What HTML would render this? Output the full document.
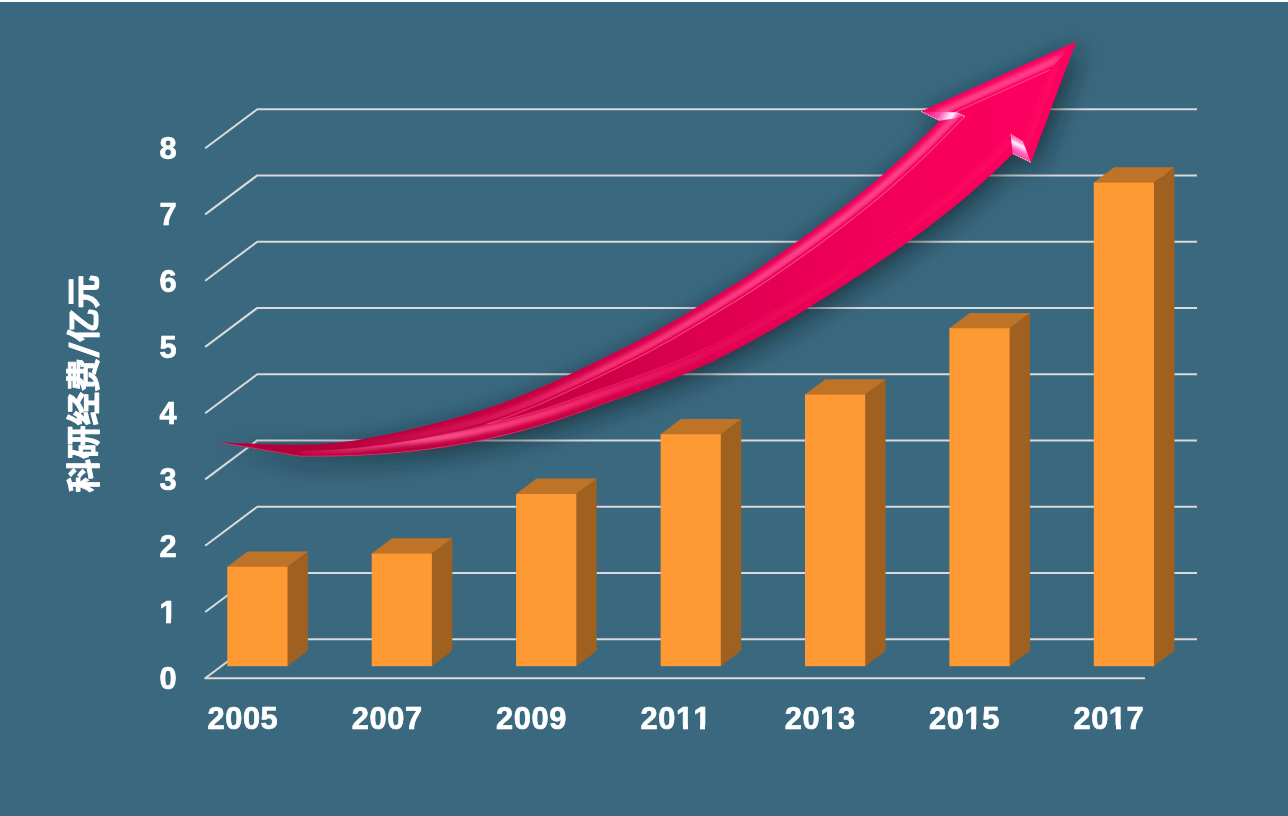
<!DOCTYPE html>
<html lang="zh-CN">
<head>
<meta charset="utf-8">
<title>科研经费</title>
<style>
html,body{margin:0;padding:0;background:#3a697f;}
body{width:1288px;height:816px;overflow:hidden;font-family:"Liberation Sans","Noto Sans CJK SC",sans-serif;}
svg{display:block;}
</style>
</head>
<body>
<svg width="1288" height="816" viewBox="0 0 1288 816">
<defs>
<linearGradient id="gF" gradientUnits="userSpaceOnUse" x1="217" y1="0" x2="1076" y2="0">
<stop offset="0" stop-color="#ae0037"/><stop offset="0.132" stop-color="#b6003b"/><stop offset="0.388" stop-color="#c80044"/><stop offset="0.574" stop-color="#de004f"/><stop offset="0.749" stop-color="#ef0058"/><stop offset="0.912" stop-color="#fb005e"/><stop offset="1" stop-color="#fe0060"/>
</linearGradient>
<linearGradient id="gB" gradientUnits="userSpaceOnUse" x1="217" y1="0" x2="1076" y2="0">
<stop offset="0" stop-color="#ae0037"/><stop offset="0.132" stop-color="#b6003b"/><stop offset="0.388" stop-color="#cb054a"/><stop offset="0.574" stop-color="#e60855"/><stop offset="0.749" stop-color="#f40a5e"/><stop offset="0.912" stop-color="#fd0663"/><stop offset="1" stop-color="#ff0664"/>
</linearGradient>
<linearGradient id="gRim" gradientUnits="userSpaceOnUse" x1="217" y1="0" x2="1076" y2="0">
<stop offset="0" stop-color="#ff6a9c" stop-opacity="0.55"/><stop offset="0.353" stop-color="#ff6a9c" stop-opacity="0.5"/><stop offset="0.539" stop-color="#ff6a9c" stop-opacity="0"/>
</linearGradient>
<linearGradient id="gHU" gradientUnits="userSpaceOnUse" x1="217" y1="0" x2="1076" y2="0">
<stop offset="0.132" stop-color="#e0205f" stop-opacity="0"/><stop offset="0.236" stop-color="#e8246a" stop-opacity="0.4"/><stop offset="0.329" stop-color="#f02a6c" stop-opacity="0.6"/><stop offset="0.446" stop-color="#ff3a7c" stop-opacity="0.9"/><stop offset="0.679" stop-color="#ff4a90" stop-opacity="1"/><stop offset="1" stop-color="#ff4a90" stop-opacity="1"/>
</linearGradient>
<linearGradient id="gHL" gradientUnits="userSpaceOnUse" x1="217" y1="0" x2="1076" y2="0">
<stop offset="0.097" stop-color="#e83070" stop-opacity="0.3"/><stop offset="0.166" stop-color="#f04080" stop-opacity="0.8"/><stop offset="0.248" stop-color="#ff5a98" stop-opacity="1"/><stop offset="0.388" stop-color="#ff3a7a" stop-opacity="0.95"/><stop offset="0.562" stop-color="#f82070" stop-opacity="0.4"/><stop offset="0.749" stop-color="#ff1a6c" stop-opacity="0.2"/><stop offset="1" stop-color="#ff1a6e" stop-opacity="0.3"/>
</linearGradient>
<linearGradient id="gLU" gradientUnits="userSpaceOnUse" x1="217" y1="0" x2="1076" y2="0">
<stop offset="0.322" stop-color="#f03a74" stop-opacity="0.8"/><stop offset="0.574" stop-color="#ff4a8a" stop-opacity="0.85"/><stop offset="1" stop-color="#ff4a8e" stop-opacity="0.85"/>
</linearGradient>
<linearGradient id="gLL" gradientUnits="userSpaceOnUse" x1="217" y1="0" x2="1076" y2="0">
<stop offset="0.322" stop-color="#f0407a" stop-opacity="0.8"/><stop offset="0.574" stop-color="#f8307a" stop-opacity="0.4"/><stop offset="0.679" stop-color="#ff2a7a" stop-opacity="0.2"/><stop offset="1" stop-color="#ff2a7a" stop-opacity="0.2"/>
</linearGradient>
<linearGradient id="gG1" gradientUnits="userSpaceOnUse" x1="930" y1="108" x2="958" y2="124">
<stop offset="0" stop-color="#ff1a74"/><stop offset="0.35" stop-color="#ff50b0"/><stop offset="0.6" stop-color="#ffc8f4"/><stop offset="0.72" stop-color="#fff0fc"/><stop offset="0.86" stop-color="#ff60b8"/><stop offset="1" stop-color="#ff1a74"/>
</linearGradient>
<linearGradient id="gG2" gradientUnits="userSpaceOnUse" x1="1026" y1="137" x2="1015" y2="159">
<stop offset="0" stop-color="#ff2a84"/><stop offset="0.22" stop-color="#ff60bc"/><stop offset="0.42" stop-color="#fff0fc"/><stop offset="0.62" stop-color="#ff70c8"/><stop offset="1" stop-color="#ff1a78"/>
</linearGradient>
<filter id="sh" x="-10%" y="-20%" width="120%" height="140%"><feGaussianBlur stdDeviation="13"/></filter>
<filter id="b2" x="-5%" y="-5%" width="110%" height="110%"><feGaussianBlur stdDeviation="1.9"/></filter>
<clipPath id="cA"><path d="M216.8 442.3L224.9 442.6 233.0 442.9 241.2 443.2 249.3 443.6 257.4 443.9 265.5 444.2 273.6 444.5 281.8 444.6 289.9 444.7 298.0 444.7 306.1 444.6 314.3 444.4 322.4 443.9 330.5 443.3 338.6 442.5 346.7 441.5 354.9 440.4 363.0 439.1 371.1 437.6 379.2 436.1 387.3 434.4 395.5 432.7 403.6 430.9 411.7 429.0 419.8 427.1 428.0 425.2 436.1 423.1 444.2 421.0 452.3 418.8 460.4 416.5 468.6 414.1 476.7 411.6 484.8 409.0 492.9 406.3 501.0 403.4 509.2 400.4 517.3 397.3 525.4 394.0 533.5 390.6 541.7 387.1 549.8 383.4 557.9 379.7 566.0 376.0 574.1 372.2 582.3 368.3 590.4 364.5 598.5 360.6 606.6 356.6 614.7 352.6 622.9 348.5 631.0 344.4 639.1 340.1 647.2 335.8 655.4 331.3 663.5 326.8 671.6 322.2 679.7 317.4 687.8 312.7 696.0 307.8 704.1 303.0 712.2 298.1 720.3 293.1 728.4 288.1 736.6 283.0 744.7 277.8 752.8 272.4 760.9 266.9 769.1 261.3 777.2 255.7 785.3 250.0 793.4 244.3 801.5 238.4 809.7 232.6 817.8 226.6 825.9 220.5 834.0 214.4 842.1 208.1 850.3 201.7 858.4 195.1 866.5 188.5 874.6 181.7 882.8 174.7 890.9 167.6 899.0 160.2 907.1 152.7 915.2 145.0 923.4 137.1 931.5 129.0 939.6 120.7 921.0 111.4 1076.3 41.4 1030.9 162.4 1012.8 153.7 1004.8 161.6 996.8 169.3 988.8 176.7 980.8 184.0 972.8 191.0 964.8 197.9 956.7 204.6 948.7 211.1 940.7 217.4 932.7 223.6 924.7 229.7 916.7 235.6 908.7 241.4 900.7 247.1 892.7 252.7 884.7 258.2 876.7 263.7 868.7 269.0 860.7 274.4 852.6 279.6 844.6 284.9 836.6 290.1 828.6 295.2 820.6 300.3 812.6 305.3 804.6 310.3 796.6 315.2 788.6 320.0 780.6 324.8 772.6 329.5 764.6 334.1 756.5 338.6 748.5 343.0 740.5 347.3 732.5 351.5 724.5 355.5 716.5 359.5 708.5 363.4 700.5 367.1 692.5 370.7 684.5 374.1 676.5 377.5 668.5 380.6 660.5 383.7 652.4 386.7 644.4 389.7 636.4 392.5 628.4 395.4 620.4 398.2 612.4 401.0 604.4 403.8 596.4 406.7 588.4 409.6 580.4 412.5 572.4 415.3 564.4 418.1 556.4 420.7 548.3 423.3 540.3 425.7 532.3 428.1 524.3 430.3 516.3 432.5 508.3 434.5 500.3 436.4 492.3 438.3 484.3 440.0 476.3 441.6 468.3 443.2 460.3 444.6 452.2 446.0 444.2 447.2 436.2 448.4 428.2 449.5 420.2 450.5 412.2 451.4 404.2 452.2 396.2 453.0 388.2 453.7 380.2 454.3 372.2 454.8 364.2 455.3 356.2 455.7 348.1 456.0 340.1 456.3 332.1 456.4 324.1 456.6 316.1 456.6 308.1 456.6 300.1 456.6Z"/></clipPath>
<clipPath id="cL"><path d="M216.8 442.3L262.0 448.2 300.1 450.7 310.9 450.6 321.8 450.3 332.6 449.8 343.4 449.1 354.2 448.1 365.1 447.0 375.9 445.6 386.7 444.2 397.6 442.5 408.4 440.8 419.2 438.9 430.0 436.9 440.9 434.8 451.7 432.5 462.5 430.1 473.4 427.4 484.2 424.6 495.0 421.6 505.8 418.4 516.7 415.0 527.5 411.3 538.3 407.4 549.2 403.4 560.0 399.1 570.8 394.8 581.6 390.3 592.5 385.8 603.3 381.2 614.1 376.6 625.0 372.0 635.8 367.3 646.6 362.5 657.5 357.5 668.3 352.4 679.1 347.1 689.9 341.6 700.8 336.0 711.6 330.2 722.4 324.2 733.3 318.1 744.1 311.8 754.9 305.2 765.7 298.5 776.6 291.6 787.4 284.6 798.2 277.5 809.1 270.3 819.9 262.9 830.7 255.4 841.5 247.7 852.4 239.9 863.2 231.9 874.0 223.8 884.9 215.5 895.7 206.9 906.5 198.1 917.3 189.1 928.2 179.7 939.0 170.0 985.0 138.0 1049.5 70.0 1076.3 41.4 1100.0 41.0 1100.0 500.0 200.0 500.0Z"/></clipPath>
<clipPath id="cU"><path d="M0 0H1288V816H0Z M216.8 442.3L262.0 448.2 300.1 450.7 310.9 450.6 321.8 450.3 332.6 449.8 343.4 449.1 354.2 448.1 365.1 447.0 375.9 445.6 386.7 444.2 397.6 442.5 408.4 440.8 419.2 438.9 430.0 436.9 440.9 434.8 451.7 432.5 462.5 430.1 473.4 427.4 484.2 424.6 495.0 421.6 505.8 418.4 516.7 415.0 527.5 411.3 538.3 407.4 549.2 403.4 560.0 399.1 570.8 394.8 581.6 390.3 592.5 385.8 603.3 381.2 614.1 376.6 625.0 372.0 635.8 367.3 646.6 362.5 657.5 357.5 668.3 352.4 679.1 347.1 689.9 341.6 700.8 336.0 711.6 330.2 722.4 324.2 733.3 318.1 744.1 311.8 754.9 305.2 765.7 298.5 776.6 291.6 787.4 284.6 798.2 277.5 809.1 270.3 819.9 262.9 830.7 255.4 841.5 247.7 852.4 239.9 863.2 231.9 874.0 223.8 884.9 215.5 895.7 206.9 906.5 198.1 917.3 189.1 928.2 179.7 939.0 170.0 985.0 138.0 1049.5 70.0 1076.3 41.4 1100.0 41.0 1100.0 500.0 200.0 500.0Z" clip-rule="evenodd"/></clipPath>
<clipPath id="cB"><path d="M0 0H880V816H0Z"/></clipPath>
<clipPath id="cHU"><path d="M880 0H1100V41H1076.3L1049.5 70L985 138L939 170L880 210Z"/></clipPath>
<clipPath id="cHL"><path d="M880 500H1100V41H1076.3L1049.5 70L985 138L939 170L880 210Z"/></clipPath>
</defs>
<rect width="1288" height="816" fill="#3a697f"/>
<rect width="1288" height="2" fill="#ffffff"/>
<g fill="none" stroke="#d9d9d9" stroke-width="2.05" stroke-linejoin="round" stroke-linecap="butt">
<path d="M205.2 148.2 L257.3 109.2 H1197.0"/>
<path d="M205.2 214.4 L257.3 175.4 H1197.0"/>
<path d="M205.2 280.7 L257.3 241.7 H1197.0"/>
<path d="M205.2 346.9 L257.3 307.9 H1197.0"/>
<path d="M205.2 413.2 L257.3 374.2 H1197.0"/>
<path d="M205.2 479.4 L257.3 440.4 H1197.0"/>
<path d="M205.2 545.7 L257.3 506.7 H1197.0"/>
<path d="M205.2 612.0 L257.3 573.0 H1197.0"/>
<path d="M1145.0 678.2 H205.2 L257.3 639.2 H1197.0"/>
</g>
<g>
<path d="M285.5 568.8 L287.5 566.8 l20.4 -15.4 V650.8 l-20.4 15.4 h-2 Z" fill="#9f6020"/>
<path d="M227.3 566.8 l20.4 -15.4 h60.2 l-20.4 15.4 v2 h-60.2 Z" fill="#bf7326"/>
<rect x="227.3" y="566.8" width="60.2" height="99.4" fill="#ff9933"/>
<path d="M429.9 555.6 L431.9 553.6 l20.4 -15.4 V650.8 l-20.4 15.4 h-2 Z" fill="#9f6020"/>
<path d="M371.7 553.6 l20.4 -15.4 h60.2 l-20.4 15.4 v2 h-60.2 Z" fill="#bf7326"/>
<rect x="371.7" y="553.6" width="60.2" height="112.6" fill="#ff9933"/>
<path d="M574.3 496.0 L576.3 494.0 l20.4 -15.4 V650.8 l-20.4 15.4 h-2 Z" fill="#9f6020"/>
<path d="M516.1 494.0 l20.4 -15.4 h60.2 l-20.4 15.4 v2 h-60.2 Z" fill="#bf7326"/>
<rect x="516.1" y="494.0" width="60.2" height="172.2" fill="#ff9933"/>
<path d="M718.8 436.3 L720.8 434.3 l20.4 -15.4 V650.8 l-20.4 15.4 h-2 Z" fill="#9f6020"/>
<path d="M660.6 434.3 l20.4 -15.4 h60.2 l-20.4 15.4 v2 h-60.2 Z" fill="#bf7326"/>
<rect x="660.6" y="434.3" width="60.2" height="231.9" fill="#ff9933"/>
<path d="M863.2 396.6 L865.2 394.6 l20.4 -15.4 V650.8 l-20.4 15.4 h-2 Z" fill="#9f6020"/>
<path d="M805.0 394.6 l20.4 -15.4 h60.2 l-20.4 15.4 v2 h-60.2 Z" fill="#bf7326"/>
<rect x="805.0" y="394.6" width="60.2" height="271.6" fill="#ff9933"/>
<path d="M1007.6 330.3 L1009.6 328.3 l20.4 -15.4 V650.8 l-20.4 15.4 h-2 Z" fill="#9f6020"/>
<path d="M949.4 328.3 l20.4 -15.4 h60.2 l-20.4 15.4 v2 h-60.2 Z" fill="#bf7326"/>
<rect x="949.4" y="328.3" width="60.2" height="337.9" fill="#ff9933"/>
<path d="M1152.0 184.6 L1154.0 182.6 l20.4 -15.4 V650.8 l-20.4 15.4 h-2 Z" fill="#9f6020"/>
<path d="M1093.8 182.6 l20.4 -15.4 h60.2 l-20.4 15.4 v2 h-60.2 Z" fill="#bf7326"/>
<rect x="1093.8" y="182.6" width="60.2" height="483.6" fill="#ff9933"/>
</g>
<g>
<path d="M216.8 442.3L224.9 442.6 233.0 442.9 241.2 443.2 249.3 443.6 257.4 443.9 265.5 444.2 273.6 444.5 281.8 444.6 289.9 444.7 298.0 444.7 306.1 444.6 314.3 444.4 322.4 443.9 330.5 443.3 338.6 442.5 346.7 441.5 354.9 440.4 363.0 439.1 371.1 437.6 379.2 436.1 387.3 434.4 395.5 432.7 403.6 430.9 411.7 429.0 419.8 427.1 428.0 425.2 436.1 423.1 444.2 421.0 452.3 418.8 460.4 416.5 468.6 414.1 476.7 411.6 484.8 409.0 492.9 406.3 501.0 403.4 509.2 400.4 517.3 397.3 525.4 394.0 533.5 390.6 541.7 387.1 549.8 383.4 557.9 379.7 566.0 376.0 574.1 372.2 582.3 368.3 590.4 364.5 598.5 360.6 606.6 356.6 614.7 352.6 622.9 348.5 631.0 344.4 639.1 340.1 647.2 335.8 655.4 331.3 663.5 326.8 671.6 322.2 679.7 317.4 687.8 312.7 696.0 307.8 704.1 303.0 712.2 298.1 720.3 293.1 728.4 288.1 736.6 283.0 744.7 277.8 752.8 272.4 760.9 266.9 769.1 261.3 777.2 255.7 785.3 250.0 793.4 244.3 801.5 238.4 809.7 232.6 817.8 226.6 825.9 220.5 834.0 214.4 842.1 208.1 850.3 201.7 858.4 195.1 866.5 188.5 874.6 181.7 882.8 174.7 890.9 167.6 899.0 160.2 907.1 152.7 915.2 145.0 923.4 137.1 931.5 129.0 939.6 120.7 921.0 111.4 1076.3 41.4 1030.9 162.4 1012.8 153.7 1004.8 161.6 996.8 169.3 988.8 176.7 980.8 184.0 972.8 191.0 964.8 197.9 956.7 204.6 948.7 211.1 940.7 217.4 932.7 223.6 924.7 229.7 916.7 235.6 908.7 241.4 900.7 247.1 892.7 252.7 884.7 258.2 876.7 263.7 868.7 269.0 860.7 274.4 852.6 279.6 844.6 284.9 836.6 290.1 828.6 295.2 820.6 300.3 812.6 305.3 804.6 310.3 796.6 315.2 788.6 320.0 780.6 324.8 772.6 329.5 764.6 334.1 756.5 338.6 748.5 343.0 740.5 347.3 732.5 351.5 724.5 355.5 716.5 359.5 708.5 363.4 700.5 367.1 692.5 370.7 684.5 374.1 676.5 377.5 668.5 380.6 660.5 383.7 652.4 386.7 644.4 389.7 636.4 392.5 628.4 395.4 620.4 398.2 612.4 401.0 604.4 403.8 596.4 406.7 588.4 409.6 580.4 412.5 572.4 415.3 564.4 418.1 556.4 420.7 548.3 423.3 540.3 425.7 532.3 428.1 524.3 430.3 516.3 432.5 508.3 434.5 500.3 436.4 492.3 438.3 484.3 440.0 476.3 441.6 468.3 443.2 460.3 444.6 452.2 446.0 444.2 447.2 436.2 448.4 428.2 449.5 420.2 450.5 412.2 451.4 404.2 452.2 396.2 453.0 388.2 453.7 380.2 454.3 372.2 454.8 364.2 455.3 356.2 455.7 348.1 456.0 340.1 456.3 332.1 456.4 324.1 456.6 316.1 456.6 308.1 456.6 300.1 456.6Z" fill="#08161f" opacity="0.62" filter="url(#sh)" transform="translate(5,6)"/>
<path d="M216.8 442.3L224.9 442.6 233.0 442.9 241.2 443.2 249.3 443.6 257.4 443.9 265.5 444.2 273.6 444.5 281.8 444.6 289.9 444.7 298.0 444.7 306.1 444.6 314.3 444.4 322.4 443.9 330.5 443.3 338.6 442.5 346.7 441.5 354.9 440.4 363.0 439.1 371.1 437.6 379.2 436.1 387.3 434.4 395.5 432.7 403.6 430.9 411.7 429.0 419.8 427.1 428.0 425.2 436.1 423.1 444.2 421.0 452.3 418.8 460.4 416.5 468.6 414.1 476.7 411.6 484.8 409.0 492.9 406.3 501.0 403.4 509.2 400.4 517.3 397.3 525.4 394.0 533.5 390.6 541.7 387.1 549.8 383.4 557.9 379.7 566.0 376.0 574.1 372.2 582.3 368.3 590.4 364.5 598.5 360.6 606.6 356.6 614.7 352.6 622.9 348.5 631.0 344.4 639.1 340.1 647.2 335.8 655.4 331.3 663.5 326.8 671.6 322.2 679.7 317.4 687.8 312.7 696.0 307.8 704.1 303.0 712.2 298.1 720.3 293.1 728.4 288.1 736.6 283.0 744.7 277.8 752.8 272.4 760.9 266.9 769.1 261.3 777.2 255.7 785.3 250.0 793.4 244.3 801.5 238.4 809.7 232.6 817.8 226.6 825.9 220.5 834.0 214.4 842.1 208.1 850.3 201.7 858.4 195.1 866.5 188.5 874.6 181.7 882.8 174.7 890.9 167.6 899.0 160.2 907.1 152.7 915.2 145.0 923.4 137.1 931.5 129.0 939.6 120.7 921.0 111.4 1076.3 41.4 1030.9 162.4 1012.8 153.7 1004.8 161.6 996.8 169.3 988.8 176.7 980.8 184.0 972.8 191.0 964.8 197.9 956.7 204.6 948.7 211.1 940.7 217.4 932.7 223.6 924.7 229.7 916.7 235.6 908.7 241.4 900.7 247.1 892.7 252.7 884.7 258.2 876.7 263.7 868.7 269.0 860.7 274.4 852.6 279.6 844.6 284.9 836.6 290.1 828.6 295.2 820.6 300.3 812.6 305.3 804.6 310.3 796.6 315.2 788.6 320.0 780.6 324.8 772.6 329.5 764.6 334.1 756.5 338.6 748.5 343.0 740.5 347.3 732.5 351.5 724.5 355.5 716.5 359.5 708.5 363.4 700.5 367.1 692.5 370.7 684.5 374.1 676.5 377.5 668.5 380.6 660.5 383.7 652.4 386.7 644.4 389.7 636.4 392.5 628.4 395.4 620.4 398.2 612.4 401.0 604.4 403.8 596.4 406.7 588.4 409.6 580.4 412.5 572.4 415.3 564.4 418.1 556.4 420.7 548.3 423.3 540.3 425.7 532.3 428.1 524.3 430.3 516.3 432.5 508.3 434.5 500.3 436.4 492.3 438.3 484.3 440.0 476.3 441.6 468.3 443.2 460.3 444.6 452.2 446.0 444.2 447.2 436.2 448.4 428.2 449.5 420.2 450.5 412.2 451.4 404.2 452.2 396.2 453.0 388.2 453.7 380.2 454.3 372.2 454.8 364.2 455.3 356.2 455.7 348.1 456.0 340.1 456.3 332.1 456.4 324.1 456.6 316.1 456.6 308.1 456.6 300.1 456.6Z" fill="url(#gF)"/>
<g clip-path="url(#cA)" fill="none">
<g clip-path="url(#cU)"><g filter="url(#b2)" stroke="url(#gHU)" stroke-width="6.5"><path d="M330.4 447.8L338.8 447.2 347.2 446.4 355.6 445.5 364.0 444.4 372.4 443.3 380.8 442.0 389.2 440.6 397.5 439.2 405.9 437.7 414.3 436.1 422.7 434.5 431.1 432.7 439.5 430.9 447.9 429.0 456.3 427.0 464.8 424.9 473.2 422.7 481.7 420.3 490.1 417.8 498.6 415.1 507.0 412.1 515.4 409.0 523.8 405.7 532.2 402.2 540.6 398.7 548.9 395.0 557.3 391.2 565.6 387.4 573.9 383.5 582.1 379.6 590.4 375.6 598.7 371.6 607.0 367.5 615.3 363.4 623.6 359.2 631.9 354.9 640.2 350.6 648.5 346.1 656.8 341.6 665.1 336.9 673.5 332.1 681.7 327.3 690.0 322.4 698.3 317.4 706.6 312.4 714.8 307.4 723.1 302.3 731.4 297.1 739.7 291.9 748.0 286.5 756.3 281.0 764.6 275.3 772.9 269.6 781.2 263.8 789.5 257.9 797.7 252.0 806.0 246.1 814.3 240.1 822.6 233.9 830.9 227.7 839.3 221.4 847.6 215.0 855.9 208.4 864.2 201.7 872.6 194.9 880.9 187.9 889.3 180.7 897.6 173.3 905.9 165.8" clip-path="url(#cB)"/><path d="M375.1 445.8L395.4 444.2 419.2 441.8 442.9 438.5 466.7 434.5 490.4 429.7 506.2 426.0 529.9 419.6 545.7 414.9 569.5 407.0 633.5 384.3 657.3 375.5 673.2 369.3 688.9 362.6 712.6 351.6 736.4 339.5 760.2 326.4 792.0 307.7 831.9 282.7 879.7 251.0 911.5 228.5 927.4 216.6 943.2 204.2 967.0 184.4 990.7 162.9 1011.0 143.1 1026.0 150.3 1060.6 58.1 941.5 111.8 954.3 118.2 929.5 143.4 913.1 159.2 888.5 181.3 863.9 202.0 847.6 215.0 823.0 233.7 798.5 251.4 765.9 274.2 749.5 285.1 724.9 300.6 692.3 320.2 667.8 334.5 635.0 352.2 594.2 372.4 545.2 395.1 528.8 402.1 512.3 408.7 495.8 414.6 479.3 420.0 446.5 429.5 413.7 437.6Z" clip-path="url(#cHU)"/></g></g>
<g clip-path="url(#cL)"><g filter="url(#b2)" stroke="url(#gHL)" stroke-width="6.5"><path d="M301.1 450.7L310.0 450.6 318.9 450.4 327.8 450.0 336.7 449.5 345.6 448.9 354.5 448.1 363.4 447.1 372.2 446.1 381.1 444.9 389.9 443.7 398.7 442.5 407.6 441.6 416.4 440.7 425.3 439.6 434.1 438.4 443.0 437.1 451.8 435.7 460.7 434.2 469.5 432.6 478.4 430.8 487.2 428.9 496.1 427.0 504.9 424.8 513.7 422.6 522.6 420.2 531.4 417.7 540.2 415.1 549.1 412.4 557.9 409.5 566.8 406.4 575.7 403.3 584.6 400.1 593.6 396.9 602.6 393.6 611.6 390.5 620.6 387.3 629.5 384.2 638.4 381.0 647.3 377.7 656.2 374.4 665.1 371.0 673.9 367.5 682.7 363.8 691.6 359.9 700.4 355.9 709.2 351.7 718.1 347.4 726.9 342.9 735.8 338.2 744.7 333.4 753.5 328.5 762.4 323.5 771.3 318.4 780.2 313.1 789.1 307.8 798.0 302.4 806.9 296.8 815.9 291.2 824.8 285.5 833.7 279.8 842.7 274.0 851.6 268.1 860.5 262.2 869.4 256.2 878.4 250.2 887.3 244.1 896.2 237.8 905.1 231.5 913.9 225.0" clip-path="url(#cB)"/><path d="M397.7 442.6L419.0 440.4 434.8 438.3 458.5 434.6 474.3 431.6 498.0 426.5 513.7 422.6 537.4 416.0 553.2 411.0 641.0 380.1 664.7 371.2 680.5 364.7 696.3 357.8 719.9 346.4 743.7 334.0 767.5 320.6 799.2 301.6 839.1 276.3 878.9 249.8 910.7 227.4 926.5 215.5 942.4 203.1 966.1 183.3 989.8 161.9 1010.7 141.4 1025.3 148.4 1058.1 60.8 944.8 111.9 956.6 117.8 930.5 144.4 914.1 160.2 889.4 182.4 864.8 203.1 848.4 216.1 823.9 234.8 799.3 252.6 766.7 275.4 750.3 286.3 725.7 301.8 676.7 331.0 643.9 349.1 602.9 369.7 554.0 392.7 537.5 400.0 521.0 406.8 496.2 415.9 479.7 421.4 463.3 426.3 430.4 435.1Z" clip-path="url(#cHL)"/></g></g>
<path d="M216.8 442.3L300.1 456.6 308.1 456.6 316.1 456.6 324.1 456.6 332.1 456.4 340.1 456.3 348.1 456.0 356.2 455.7 364.2 455.3 372.2 454.8 380.2 454.3 388.2 453.7 396.2 453.0 404.2 452.2 412.2 451.4 420.2 450.5 428.2 449.5 436.2 448.4 444.2 447.2 452.2 446.0 460.3 444.6 468.3 443.2 476.3 441.6 484.3 440.0 492.3 438.3 500.3 436.4 508.3 434.5 516.3 432.5 524.3 430.3 532.3 428.1 540.3 425.7 548.3 423.3 556.4 420.7 564.4 418.1 572.4 415.3 580.4 412.5 588.4 409.6 596.4 406.7 604.4 403.8 612.4 401.0 620.4 398.2 628.4 395.4 636.4 392.5 644.4 389.7 652.4 386.7 660.5 383.7 668.5 380.6 676.5 377.5 684.5 374.1 692.5 370.7 700.5 367.1 708.5 363.4 716.5 359.5 724.5 355.5 732.5 351.5 740.5 347.3 748.5 343.0 756.5 338.6 764.6 334.1 772.6 329.5 780.6 324.8 788.6 320.0 796.6 315.2 804.6 310.3 812.6 305.3 820.6 300.3 828.6 295.2 836.6 290.1 844.6 284.9 852.6 279.6 860.7 274.4 868.7 269.0 876.7 263.7 884.7 258.2 892.7 252.7 900.7 247.1 908.7 241.4 916.7 235.6 924.7 229.7 932.7 223.6 940.7 217.4 948.7 211.1 956.7 204.6 964.8 197.9 972.8 191.0 980.8 184.0 988.8 176.7 996.8 169.3 1004.8 161.6 1012.8 153.7" stroke="url(#gRim)" stroke-width="1.6"/>
<g clip-path="url(#cU)"><path d="M455.6 431.8L473.7 428.5 497.2 423.4 520.8 417.4 536.5 412.9 567.9 402.6 655.7 371.2 671.4 365.0 687.1 358.4 702.8 351.2 718.5 343.6 750.0 326.8 765.9 317.9 789.6 303.7 821.4 283.9 861.2 257.9 893.0 236.2 916.7 218.9 940.4 200.6 964.0 180.9 987.6 159.5 1010.1 137.5 1023.5 144.0 1052.4 66.9 952.2 112.0 962.0 116.9 941.0 138.5 924.5 154.7 908.0 170.1 883.3 191.9 866.8 205.5 850.4 218.6 834.0 231.2 809.4 249.3 784.8 266.7 760.2 283.6 727.3 304.6 686.5 329.0 653.6 347.6 620.7 364.6 579.8 384.3 538.8 402.9 513.9 413.0 489.0 421.7 472.4 427.0Z" stroke="url(#gF)" stroke-opacity="0.7" stroke-width="1.6"/></g>
</g>
<path d="M487.0 424.1L504.7 419.9 520.4 415.9 536.0 411.4 551.7 406.5 567.4 401.1 639.3 375.6 663.0 366.7 678.6 360.3 694.3 353.4 709.9 346.0 725.6 338.1 741.4 329.8 757.2 321.0 773.0 311.9 788.8 302.4 812.6 287.6 844.4 267.1 876.2 245.9 899.9 229.2 923.6 211.7 947.2 193.0 970.8 172.8 986.5 158.4 1009.8 135.6 1022.6 141.8 1049.6 69.9 955.9 112.1 964.7 116.5 942.1 139.6 925.6 155.9 909.1 171.3 892.6 186.0 876.1 200.0 859.6 213.4 843.1 226.3 818.5 244.7 793.9 262.3 769.4 279.3 752.9 290.3 736.4 300.8 703.6 320.7 670.9 339.9 646.1 353.4 613.2 370.1 572.3 389.6 539.4 404.4 514.5 414.5 497.8 420.5Z" fill="url(#gF)"/>
<path d="M1049.6 69.9L955.9 112.1 964.7 116.5 942.1 139.6 925.6 155.9 909.1 171.3 892.6 186.0 876.1 200.0 859.6 213.4 843.1 226.3 818.5 244.7 793.9 262.3 769.4 279.3 752.9 290.3 736.4 300.8 703.6 320.7 670.9 339.9 646.1 353.4 613.2 370.1 572.3 389.6 539.4 404.4 514.5 414.5 497.8 420.5 487.0 424.1" fill="none" stroke="url(#gLU)" stroke-width="1.1"/>
<path d="M487.0 424.1L504.7 419.9 520.4 415.9 536.0 411.4 551.7 406.5 567.4 401.1 639.3 375.6 663.0 366.7 678.6 360.3 694.3 353.4 709.9 346.0 725.6 338.1 741.4 329.8 757.2 321.0 773.0 311.9 788.8 302.4 812.6 287.6 844.4 267.1 876.2 245.9 899.9 229.2 923.6 211.7 947.2 193.0 970.8 172.8 986.5 158.4 1009.8 135.6 1022.6 141.8 1049.6 69.9" fill="none" stroke="url(#gLL)" stroke-width="1"/>
<path d="M921 111.4L955.9 112.3L964.8 116.5L939.6 120.7Z" fill="url(#gG1)"/>
<path d="M1010.6 134.3L1023 141.7L1030.9 162.4L1012.8 153.7Z" fill="url(#gG2)"/>
<path d="M921 111.4L939.6 120.7M955.9 112.3L964.8 116.5M1010.6 134.3L1023 141.7M1012.8 153.7L1030.9 162.4" fill="none" stroke="#ffe0f0" stroke-width="0.9" stroke-dasharray="1.6 1"/>
</g>
<g fill="#ffffff" font-family="'Liberation Sans', 'Noto Sans CJK SC', sans-serif" font-weight="bold" font-size="30.8" stroke="#ffffff" stroke-width="0.7" stroke-linejoin="round" style="font-kerning:none">
<text x="159.44" y="159.2">8</text>
<text x="159.44" y="225.4">7</text>
<text x="159.44" y="291.7">6</text>
<text x="159.44" y="357.9">5</text>
<text x="159.44" y="424.2">4</text>
<text x="159.44" y="490.4">3</text>
<text x="159.44" y="556.7">2</text>
<clipPath id="f1"><path clip-rule="evenodd" d="M0 0H1288V816H0Z M160 619H166V626H160Z M171 619H177V626H171Z"/></clipPath>
<text x="159.44" y="623.0" clip-path="url(#f1)">1</text>
<text x="159.44" y="689.2">0</text>
<text x="207.44" y="729.1" letter-spacing="0.6">2005</text>
<text x="351.77" y="729.1" letter-spacing="0.6">2007</text>
<text x="496.10" y="729.1" letter-spacing="0.6">2009</text>
<clipPath id="fx3"><path clip-rule="evenodd" d="M0 0H1288V816H0Z M677 725H683V732H677Z M688 725H693V732H688Z M695 725H700V732H695Z M705 725H711V732H705Z"/></clipPath>
<text x="640.43" y="729.1" letter-spacing="0.6" clip-path="url(#fx3)">2011</text>
<clipPath id="fx4"><path clip-rule="evenodd" d="M0 0H1288V816H0Z M821 725H827V732H821Z M832 725H837V732H832Z"/></clipPath>
<text x="784.76" y="729.1" letter-spacing="0.6" clip-path="url(#fx4)">2013</text>
<clipPath id="fx5"><path clip-rule="evenodd" d="M0 0H1288V816H0Z M966 725H971V732H966Z M976 725H982V732H976Z"/></clipPath>
<text x="929.09" y="729.1" letter-spacing="0.6" clip-path="url(#fx5)">2015</text>
<clipPath id="fx6"><path clip-rule="evenodd" d="M0 0H1288V816H0Z M1110 725H1116V732H1110Z M1121 725H1126V732H1121Z"/></clipPath>
<text x="1073.42" y="729.1" letter-spacing="0.6" clip-path="url(#fx6)">2017</text>
<g transform="translate(96.3,383.7) rotate(-90)" font-size="33.6" stroke="#ffffff" stroke-width="0.9">
<text x="-108.9" y="0">科研经费</text>
<text transform="translate(33.6,2.2) scale(1.3,1)" x="0" y="0" font-size="40" text-anchor="middle" font-weight="normal" stroke-width="0.9">/</text>
<text x="41.6" y="0">亿元</text>
</g>
</g>
</svg>
</body>
</html>
